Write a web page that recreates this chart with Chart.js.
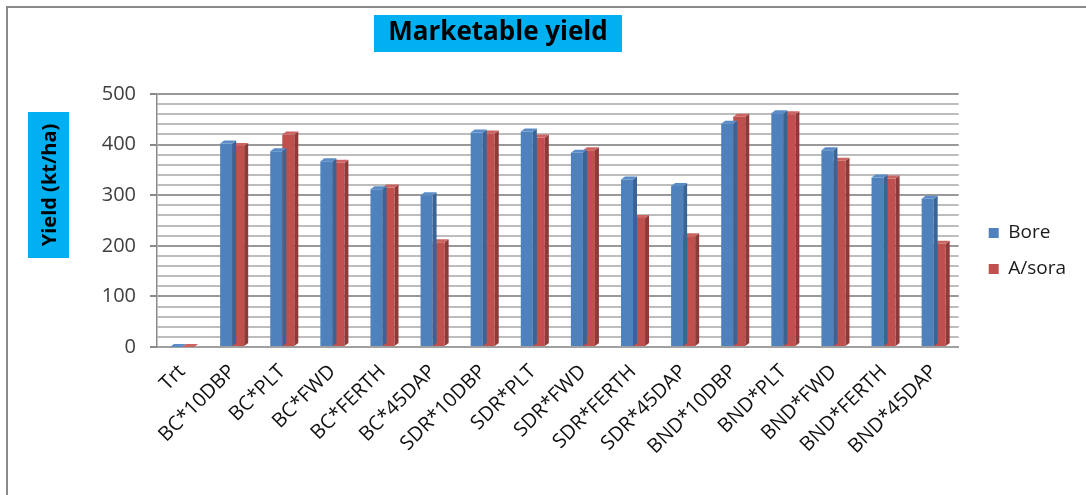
<!DOCTYPE html>
<html>
<head>
<meta charset="utf-8">
<script src="https://cdn.jsdelivr.net/npm/chart.js@4.4.1/dist/chart.umd.min.js"></script>
<style>
  html, body { margin: 0; padding: 0; background: #ffffff; }
  #wrap { position: relative; width: 1086px; height: 495px; }
</style>
</head>
<body>
<div id="wrap"><canvas id="chart" width="1086" height="495"></canvas></div>
<script>
// Treatments on the category axis
const categories = ['Trt', 'BC*10DBP', 'BC*PLT', 'BC*FWD', 'BC*FERTH', 'BC*45DAP',
  'SDR*10DBP', 'SDR*PLT', 'SDR*FWD', 'SDR*FERTH', 'SDR*45DAP',
  'BND*10DBP', 'BND*PLT', 'BND*FWD', 'BND*FERTH', 'BND*45DAP'];

// Marketable yield per treatment (kt/ha)
const boreValues  = [0, 402, 387, 367, 312, 300, 424, 426, 384, 331, 318, 441, 462, 389, 335, 293];
const asoraValues = [0, 397, 420, 364, 315, 207, 422, 414, 389, 255, 219, 455, 460, 368, 333, 204];

const seriesNames = ['Bore', 'A/sora'];
const chartTitle = 'Marketable yield';
const yAxisTitle = 'Yield (kt/ha)';

// Value axis: labelled every 100, ruled every 20
const yMin = 0;
const yMax = 500;
const yMinorStep = 20;
const yMajorStep = 100;

const FONT = '"Open Sans", Lato, sans-serif';
const LEGEND_GAP = 13;   // extra space between plot and legend

// Fit a bold label into a given width
function fitFont(ctx, text, width, maxSize) {
  let size = maxSize;
  ctx.font = 'bold ' + size + 'px ' + FONT;
  while (size > 8 && ctx.measureText(text).width > width) {
    size -= 0.5;
    ctx.font = 'bold ' + size + 'px ' + FONT;
  }
}

// Frame, title boxes and the shaded side/top faces of the columns
const decorations = {
  id: 'decorations',
  beforeLayout(chart) {
    const lg = chart.legend;
    if (lg && !lg.__gapped) {
      const fit = lg.fit;
      lg.fit = function () { fit.call(this); this.width += LEGEND_GAP; };
      lg.__gapped = true;
    }
  },
  afterLayout(chart) {
    if (chart.legend) chart.legend.left += LEGEND_GAP;
    // let the slanted category labels run below the axis box
    if (chart.scales.x) chart.scales.x.bottom = chart.height;
  },
  beforeDraw(chart) {
    const ctx = chart.ctx;
    ctx.save();
    ctx.fillStyle = '#ffffff';
    ctx.fillRect(0, 0, chart.width, chart.height);
    ctx.strokeStyle = '#8a8a8a';
    ctx.lineWidth = 2;
    ctx.beginPath();
    ctx.moveTo(7, chart.height);
    ctx.lineTo(7, 7);
    ctx.lineTo(chart.width, 7);
    ctx.stroke();
    ctx.restore();
  },
  afterDraw(chart) {
    const ctx = chart.ctx;
    ctx.save();
    ctx.textAlign = 'center';
    ctx.textBaseline = 'middle';
    // chart title on a cyan box
    ctx.fillStyle = '#00B0F0';
    ctx.fillRect(374, 15, 248, 37);
    ctx.fillStyle = '#000000';
    fitFont(ctx, chartTitle, 230, 26);
    ctx.fillText(chartTitle, 498, 33);
    // value-axis title on a cyan box
    ctx.fillStyle = '#00B0F0';
    ctx.fillRect(28, 112, 41, 146);
    ctx.translate(49, 185);
    ctx.rotate(-Math.PI / 2);
    ctx.fillStyle = '#000000';
    fitFont(ctx, yAxisTitle, 130, 20);
    ctx.fillText(yAxisTitle, 0, 1);
    ctx.restore();
  },
  afterDatasetDraw(chart, args) {
    const ctx = chart.ctx;
    const meta = args.meta;
    const side = meta.index === 0 ? '#3A6496' : '#8E3A38';
    const top = meta.index === 0 ? '#5A8CC8' : '#CC6462';
    const dx = 4, dy = 3;
    ctx.save();
    meta.data.forEach(bar => {
      const p = bar.getProps(['x', 'y', 'base', 'width'], true);
      const l = p.x - p.width / 2, r = p.x + p.width / 2;
      ctx.fillStyle = side;
      ctx.beginPath();
      ctx.moveTo(r, p.y);
      ctx.lineTo(r + dx, p.y - dy);
      ctx.lineTo(r + dx, p.base - dy);
      ctx.lineTo(r, p.base);
      ctx.closePath();
      ctx.fill();
      ctx.fillStyle = top;
      ctx.beginPath();
      ctx.moveTo(l, p.y);
      ctx.lineTo(l + dx, p.y - dy);
      ctx.lineTo(r + dx, p.y - dy);
      ctx.lineTo(r, p.y);
      ctx.closePath();
      ctx.fill();
    });
    ctx.restore();
  }
};

new Chart(document.getElementById('chart'), {
  type: 'bar',
  data: {
    labels: categories,
    datasets: [
      { label: seriesNames[0], data: boreValues, backgroundColor: '#4F81BD', borderWidth: 0 },
      { label: seriesNames[1], data: asoraValues, backgroundColor: '#C0504D', borderWidth: 0 }
    ]
  },
  plugins: [decorations],
  options: {
    responsive: false,
    animation: false,
    layout: { padding: { top: 94, left: 0, right: 10, bottom: 87 } },
    datasets: { bar: { categoryPercentage: 0.48, barPercentage: 1.0 } },
    plugins: {
      title: { display: false },
      tooltip: { enabled: false },
      legend: {
        position: 'right',
        labels: {
          boxWidth: 10,
          boxHeight: 10,
          padding: 17,
          color: '#1a1a1a',
          font: { family: FONT, size: 19 }
        }
      }
    },
    scales: {
      x: {
        grid: { display: false },
        border: { display: true, color: '#a0a0a0', width: 2 },
        ticks: {
          autoSkip: false,
          maxRotation: 45,
          minRotation: 45,
          padding: 5,
          color: '#111111',
          font: { family: FONT, size: 20 }
        },
        afterFit(scale) { scale.height = 61; }
      },
      y: {
        min: yMin,
        max: yMax,
        border: { display: true, color: '#8a8a8a', width: 1.5 },
        grid: {
          lineWidth: 2,
          color: c => (c.tick && c.tick.value % yMajorStep === 0) ? '#999999' : '#bdbdbd',
          tickColor: c => (c.tick && c.tick.value % yMajorStep === 0) ? '#8a8a8a' : 'rgba(0,0,0,0)',
          tickLength: 7
        },
        ticks: {
          stepSize: yMinorStep,
          autoSkip: false,
          color: '#404040',
          padding: 14,
          font: { family: FONT, size: 20 },
          callback: v => (v % yMajorStep === 0 ? String(v) : '')
        },
        afterFit(scale) { scale.width = 157; }
      }
    }
  }
});
</script>
</body>
</html>
